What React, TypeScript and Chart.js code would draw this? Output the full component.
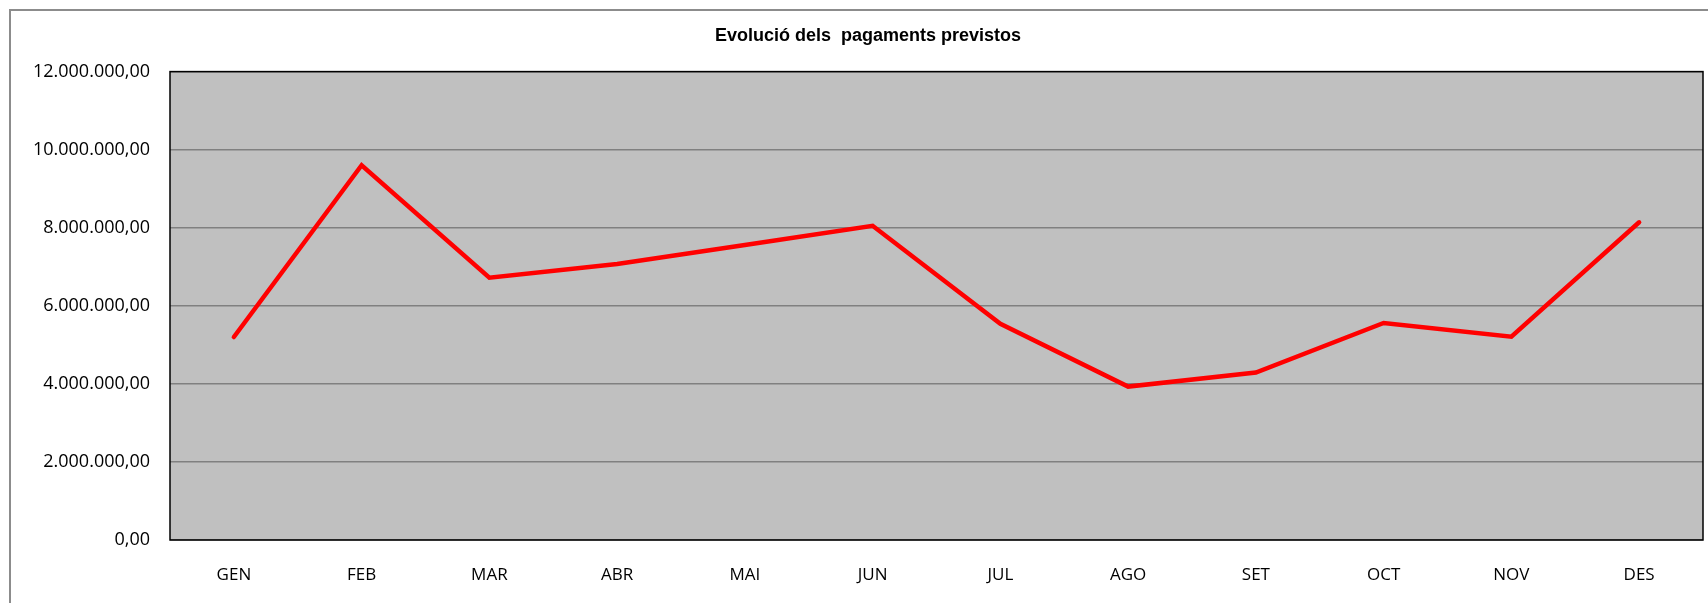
import React, { useEffect, useRef } from "react";
import { Chart, registerables } from "chart.js";

Chart.register(...registerables);

const TITLE = "Evolució dels  pagaments previstos";
const MONTHS = ["GEN", "FEB", "MAR", "ABR", "MAI", "JUN", "JUL", "AGO", "SET", "OCT", "NOV", "DES"];
const PAYMENTS = [5200000, 9600000, 6720000, 7070000, 7560000, 8050000, 5540000, 3930000, 4290000, 5560000, 5210000, 8140000];
const Y_MIN = 0;
const Y_MAX = 12000000;
const Y_STEP = 2000000;

function formatCat(v: number): string {
  const [intPart, dec] = Math.abs(v).toFixed(2).split(".");
  const withDots = intPart.replace(/\B(?=(\d{3})+(?!\d))/g, ".");
  return (v < 0 ? "-" : "") + withDots + "," + dec;
}

const framePlugin = {
  id: "frame",
  beforeDraw(chart: any) {
    const { ctx, chartArea, width, height } = chart;
    ctx.save();
    ctx.fillStyle = "#ffffff";
    ctx.fillRect(0, 0, width, height);
    // outer chart border
    ctx.strokeStyle = "#8c8c8c";
    ctx.lineWidth = 2;
    ctx.beginPath();
    ctx.moveTo(10, height + 5);
    ctx.lineTo(10, 10);
    ctx.lineTo(width + 5, 10);
    ctx.stroke();
    // plot area background
    ctx.fillStyle = "#c0c0c0";
    ctx.fillRect(chartArea.left, chartArea.top, chartArea.right - chartArea.left, chartArea.bottom - chartArea.top);
    ctx.restore();
  },
  beforeDatasetsDraw(chart: any) {
    const { ctx, chartArea } = chart;
    ctx.save();
    ctx.strokeStyle = "#000000";
    ctx.lineWidth = 1.5;
    ctx.strokeRect(chartArea.left, chartArea.top, chartArea.right - chartArea.left, chartArea.bottom - chartArea.top);
    ctx.restore();
  },
};

export default function App() {
  const canvasRef = useRef<HTMLCanvasElement | null>(null);

  useEffect(() => {
    if (!canvasRef.current) return;
    const chart = new Chart(canvasRef.current, {
      type: "line",
      data: {
        labels: MONTHS,
        datasets: [
          {
            label: "Pagaments",
            data: PAYMENTS,
            borderColor: "#ff0000",
            backgroundColor: "#ff0000",
            borderWidth: 4.5,
            pointRadius: 0,
            pointHoverRadius: 0,
            tension: 0,
            borderCapStyle: "round",
            borderJoinStyle: "miter",
            fill: false,
          },
        ],
      },
      options: {
        responsive: false,
        devicePixelRatio: 1,
        animation: false,
        layout: { padding: { left: 33, right: 5, top: 0, bottom: 0 } },
        plugins: {
          legend: { display: false },
          tooltip: { enabled: false },
          title: {
            display: true,
            text: TITLE,
            color: "#000000",
            font: { family: "'Liberation Sans', Arial, sans-serif", size: 18, weight: "bold" },
            padding: { top: 25, bottom: 25 },
          },
        },
        scales: {
          x: {
            type: "category",
            offset: true,
            grid: { display: false, drawTicks: false },
            border: { display: false },
            ticks: {
              color: "#000000",
              font: { family: "'Open Sans', sans-serif", size: 17 },
              padding: 25,
              maxRotation: 0,
              autoSkip: false,
            },
            afterFit(scale: any) {
              scale.height = 63;
            },
          },
          y: {
            min: Y_MIN,
            max: Y_MAX,
            grid: { color: "#808080", lineWidth: 1.5, drawTicks: false },
            border: { display: false },
            ticks: {
              stepSize: Y_STEP,
              color: "#000000",
              font: { family: "'Open Sans', sans-serif", size: 18 },
              padding: 20,
              callback: (v: any) => formatCat(Number(v)),
            },
            afterFit(scale: any) {
              scale.width = 137;
            },
          },
        },
      },
      plugins: [framePlugin],
    });
    return () => chart.destroy();
  }, []);

  return (
    <div style={{ position: "fixed", left: 0, top: 0, width: 1708, height: 603, background: "#fff" }}>
      <canvas ref={canvasRef} width={1708} height={603} style={{ display: "block", width: 1708, height: 603 }} />
    </div>
  );
}
